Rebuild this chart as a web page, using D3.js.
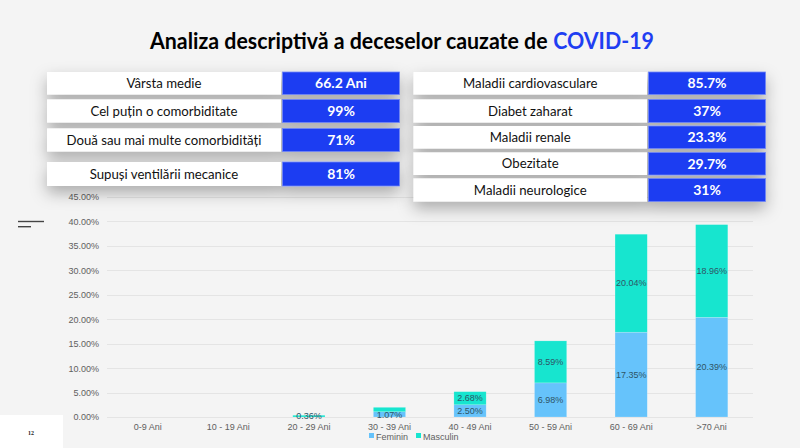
<!DOCTYPE html>
<html>
<head>
<meta charset="utf-8">
<script src="https://cdn.jsdelivr.net/npm/d3@7"></script>
<style>
  html, body { margin: 0; padding: 0; background: #f4f4f4; }
  svg { display: block; }
</style>
</head>
<body>
<svg id="chart" width="800" height="448"></svg>
<script>
// ---------- DATA ----------
const titleMain = "Analiza descriptivă a deceselor cauzate de";
const titleAccent = "COVID-19";

const leftLabels = ["Vârsta medie", "Cel puțin o comorbiditate", "Două sau mai multe comorbidități", "Supuși ventilării mecanice"];
const leftValues = ["66.2 Ani", "99%", "71%", "81%"];

const rightLabels = ["Maladii cardiovasculare", "Diabet zaharat", "Maladii renale", "Obezitate", "Maladii neurologice"];
const rightValues = ["85.7%", "37%", "23.3%", "29.7%", "31%"];

const categories = ["0-9 Ani", "10 - 19 Ani", "20 - 29 Ani", "30 - 39 Ani", "40 - 49 Ani", "50 - 59 Ani", "60 - 69 Ani", ">70 Ani"];
const feminin  = [0, 0, 0,    1.07, 2.50, 6.98, 17.35, 20.39];
const masculin = [0, 0, 0.36, 0.91, 2.68, 8.59, 20.04, 18.96];
const seriesNames = ["Feminin", "Masculin"];
const yTicks = [0, 5, 10, 15, 20, 25, 30, 35, 40, 45];
const pageNumber = "12";

// ---------- STYLE ----------
const colors = { Feminin: "#66c3fb", Masculin: "#17e5cf" };
const blue = "#1f3ef2";

const svg = d3.select("#chart");
const defs = svg.append("defs");

svg.append("rect").attr("width", 800).attr("height", 448).attr("fill", "#f4f4f4");

const f = defs.append("filter").attr("id", "shadow")
  .attr("x", "-20%").attr("y", "-20%").attr("width", "140%").attr("height", "170%");
f.append("feDropShadow").attr("dx", 0).attr("dy", 7).attr("stdDeviation", 8)
  .attr("flood-color", "#000").attr("flood-opacity", 0.3);

// ---------- TITLE ----------
const titleFont = "Lato, 'Open Sans', sans-serif";
const tg0 = svg.append("g");
const t1 = tg0.append("text").attr("x", 0).attr("y", 0)
  .attr("font-family", titleFont).attr("font-weight", 700).attr("font-size", 23.5)
  .attr("fill", "#000").text(titleMain);
const w1 = t1.node().getComputedTextLength();
const spaceW = 6;
const t2 = tg0.append("text").attr("x", w1 + spaceW).attr("y", 0)
  .attr("font-family", titleFont).attr("font-weight", 700).attr("font-size", 23.5)
  .attr("fill", blue).text(titleAccent);
const wTot = w1 + spaceW + t2.node().getComputedTextLength();
const sx = 504 / wTot;
tg0.attr("transform", `translate(150,48.5) scale(${sx},1)`);

// ---------- CHART ----------
const x = d3.scaleBand().domain(categories).range([107.5, 752]).paddingInner(0.6).paddingOuter(0.3);
const y = d3.scaleLinear().domain([0, 45]).range([417, 197]);

const g = svg.append("g");

g.selectAll("line.grid").data(yTicks).join("line")
  .attr("x1", 107).attr("x2", 753)
  .attr("y1", d => Math.round(y(d)) + 0.5).attr("y2", d => Math.round(y(d)) + 0.5)
  .attr("stroke", "#e4e4e4").attr("stroke-width", 1);

const yAxis = d3.axisLeft(y).tickValues(yTicks).tickSize(0).tickPadding(0)
  .tickFormat(d => d.toFixed(2) + "%");
const ya = g.append("g").attr("transform", "translate(99,0)").call(yAxis);
ya.select(".domain").remove();
ya.selectAll("text").attr("font-family", "'Liberation Sans', Arial, sans-serif")
  .attr("font-size", 9).attr("fill", "#606060");

const xAxis = d3.axisBottom(x).tickSize(0).tickPadding(0);
const xa = g.append("g").attr("transform", "translate(0,423.5)").call(xAxis);
xa.select(".domain").remove();
xa.selectAll("text").attr("font-family", "'Liberation Sans', Arial, sans-serif")
  .attr("font-size", 9).attr("fill", "#606060");

const rows = categories.map((c, i) => ({ cat: c, Feminin: feminin[i], Masculin: masculin[i] }));
const stack = d3.stack().keys(seriesNames)(rows);

const layers = g.selectAll("g.layer").data(stack).join("g")
  .attr("fill", d => colors[d.key]);
layers.selectAll("rect").data(d => d.filter(s => s[1] - s[0] > 0)).join("rect")
  .attr("x", d => x(d.data.cat))
  .attr("y", d => y(d[1]))
  .attr("width", x.bandwidth())
  .attr("height", d => y(d[0]) - y(d[1]))
  .attr("stroke", "rgba(255,255,255,0.35)").attr("stroke-width", 0.5);

const placed = {};
stack.forEach(layer => {
  layer.forEach(s => {
    const v = s[1] - s[0];
    if (v <= 0) return;
    const cy = (y(s[0]) + y(s[1])) / 2;
    const cat = s.data.cat;
    placed[cat] = placed[cat] || [];
    if (placed[cat].some(p => Math.abs(p - cy) < 9)) return;
    placed[cat].push(cy);
    g.append("text")
      .attr("x", x(cat) + x.bandwidth() / 2)
      .attr("y", cy + 3.2)
      .attr("text-anchor", "middle")
      .attr("font-family", "'Liberation Sans', Arial, sans-serif")
      .attr("font-size", 9).attr("fill", "#2e5566")
      .text(v.toFixed(2) + "%");
  });
});

const legend = g.append("g").attr("transform", "translate(369,436.5)");
let lx = 0;
seriesNames.forEach(name => {
  legend.append("rect").attr("x", lx).attr("y", -3.5).attr("width", 5).attr("height", 5)
    .attr("fill", colors[name]);
  const t = legend.append("text").attr("x", lx + 7).attr("y", 3.2)
    .attr("font-family", "'Liberation Sans', Arial, sans-serif")
    .attr("font-size", 9).attr("fill", "#606060").text(name);
  lx += 7 + t.node().getComputedTextLength() + 8;
});

// ---------- TABLES ----------
function drawTable(labels, values, rowYs, rowH, xL, wL, xV, wV) {
  const tg = svg.append("g");
  const grp = tg.append("g").attr("filter", "url(#shadow)");
  labels.forEach((lab, i) => {
    const yy = rowYs[i], h = rowH[i];
    grp.append("rect").attr("x", xL).attr("y", yy).attr("width", wL).attr("height", h).attr("fill", "#fff");
    grp.append("rect").attr("x", xV).attr("y", yy).attr("width", wV).attr("height", h)
      .attr("fill", blue).attr("stroke", "#6f86f5").attr("stroke-width", 0.8);
  });
  labels.forEach((lab, i) => {
    const yy = rowYs[i], h = rowH[i];
    tg.append("text").attr("x", xL + wL / 2).attr("y", yy + h / 2 + 4.7)
      .attr("text-anchor", "middle")
      .attr("font-family", "Lato, 'Open Sans', sans-serif")
      .attr("font-size", 13.2).attr("fill", "#111").text(lab);
    tg.append("text").attr("x", xV + wV / 2).attr("y", yy + h / 2 + 5)
      .attr("text-anchor", "middle")
      .attr("font-family", "Lato, 'Open Sans', sans-serif")
      .attr("font-weight", 700)
      .attr("font-size", 14).attr("fill", "#fff").text(values[i]);
  });
}

drawTable(leftLabels, leftValues, [72, 99.5, 128.5, 162], [22.5, 23, 23, 24], 47, 234, 282.5, 117);
drawTable(rightLabels, rightValues, [72, 99.5, 126, 152.5, 178.5], [22.5, 23, 22.5, 22.5, 23], 413.5, 233.5, 648.5, 117);

// ---------- DECOR ----------
svg.append("line").attr("x1", 18).attr("x2", 44).attr("y1", 221.5).attr("y2", 221.5)
  .attr("stroke", "#444").attr("stroke-width", 1.4);
svg.append("line").attr("x1", 18).attr("x2", 31).attr("y1", 226.7).attr("y2", 226.7)
  .attr("stroke", "#444").attr("stroke-width", 1.4);

svg.append("rect").attr("x", 0).attr("y", 415).attr("width", 63).attr("height", 33).attr("fill", "#fff");
svg.append("text").attr("x", 31).attr("y", 435).attr("text-anchor", "middle")
  .attr("font-family", "'Liberation Serif', serif").attr("font-size", 6).attr("font-weight", 700)
  .attr("fill", "#222").text(pageNumber);
</script>
</body>
</html>
